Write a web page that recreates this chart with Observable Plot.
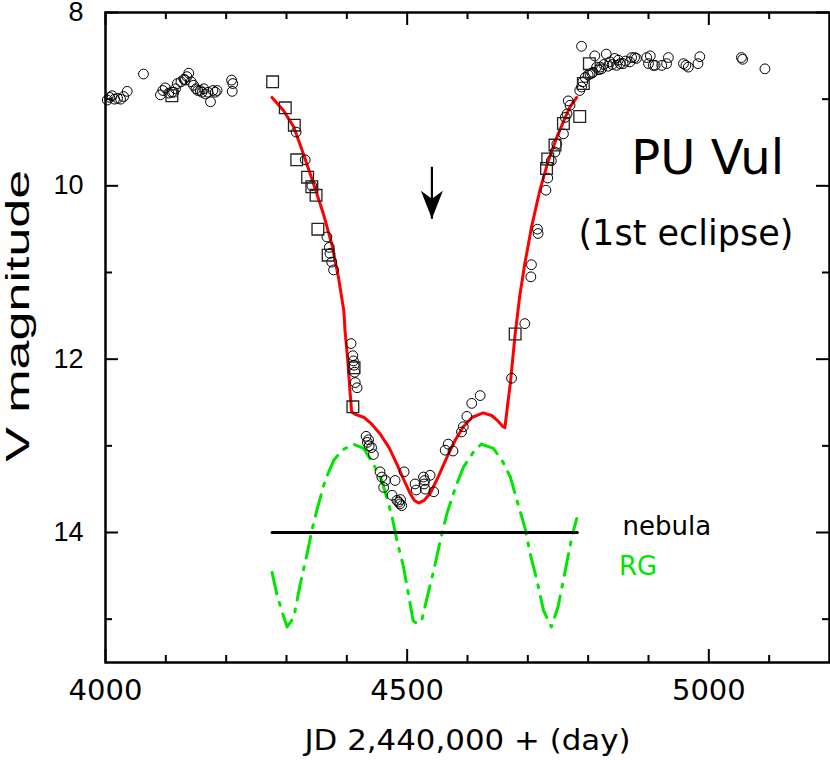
<!DOCTYPE html>
<html><head><meta charset="utf-8">
<script src="https://cdn.jsdelivr.net/npm/d3@7"></script>
<script src="https://cdn.jsdelivr.net/npm/@observablehq/plot@0.6"></script>
<style>body{margin:0;background:#fff;}</style>
</head><body><div id="chart"></div>
<script>
// ---- data (JD-2,440,000 , V magnitude) ----
const circleObs = [
  [4003,9.01],[4007,8.98],[4011,8.96],[4015,9.0],[4020,8.99],[4025,9.0],[4030,8.97],[4036,8.91],
  [4063,8.71],[4091,8.95],[4095,8.9],[4099,8.87],[4105,8.93],[4110,8.92],[4113,8.92],[4116,8.88],
  [4119,8.82],[4125,8.8],[4130,8.77],[4132,8.78],[4135,8.74],[4138,8.70],[4142,8.8],[4146,8.84],
  [4150,8.88],[4153,8.9],[4157,8.90],[4160,8.92],[4163,8.88],[4166,8.94],[4170,8.92],[4174,9.03],
  [4178,8.9],[4182,8.92],[4185,8.90],[4209,8.78],[4211,8.82],[4210,8.91],
  [4316,9.38],[4331,9.70],[4342,10.0],[4367,10.59],[4371,10.71],[4372,10.78],[4375,10.88],[4378,10.97],
  [4407,11.82],[4410,11.96],[4411,12.02],[4412,12.07],[4413,12.15],[4414,12.27],[4417,12.33],
  [4432,12.89],[4434,12.96],[4436,12.93],[4437,13.0],[4441,13.02],[4444,13.1],
  [4455,13.30],[4458,13.36],[4461,13.48],[4464,13.40],[4475,13.57],[4480,13.40],[4483,13.63],
  [4486,13.65],[4488,13.67],[4489,13.62],[4491,13.69],[4495,13.30],[4513,13.44],[4515,13.51],
  [4527,13.36],[4528,13.44],[4529,13.40],[4530,13.50],[4538,13.34],[4544,13.53],
  [4563,13.05],[4568,12.98],[4576,13.06],[4590,12.84],[4593,12.78],[4599,12.66],[4607,12.51],
  [4621,12.42],[4673,12.22],[4695,11.59],[4705,11.05],[4706,10.91],[4716,10.50],[4717,10.55],
  [4730,10.05],[4733,9.91],[4739,9.71],[4745,9.61],[4748,9.52],[4759,9.40],[4762,9.21],
  [4765,9.17],[4767,9.02],[4770,9.07],
  [4786,8.90],[4789,8.86],[4789,8.39],[4791,8.80],[4795,8.75],[4800,8.72],[4803,8.71],[4806,8.70],
  [4808,8.69],[4811,8.50],[4814,8.63],[4818,8.66],[4820,8.63],[4822,8.65],[4826,8.6],[4830,8.48],
  [4833,8.62],[4836,8.57],[4840,8.6],[4844,8.53],[4847,8.61],[4850,8.55],[4853,8.59],[4858,8.59],
  [4862,8.56],[4869,8.57],[4872,8.52],[4877,8.52],[4880,8.53],[4897,8.52],[4900,8.59],[4903,8.5],
  [4908,8.61],[4911,8.61],[4922,8.61],[4930,8.59],[4933,8.52],[4958,8.59],[4962,8.61],[4966,8.63],
  [4982,8.59],[4985,8.51],[5054,8.52],[5056,8.54],[5093,8.65]
];
const squareObs = [
  [4110,8.96],[4277,8.80],[4298,9.10],[4313,9.30],[4317,9.70],[4335,9.90],[4342,10.01],[4349,10.11],
  [4352,10.50],[4369,10.80],[4412,12.1],[4410,12.55],[4679,11.71],[4731,9.80],[4733,9.69],
  [4745,9.53],[4759,9.28],[4786,9.20],[4792,8.82],[4802,8.59]
];
const modelCurve = [
  [4276,8.98],[4295,9.13],[4312,9.32],[4328,9.63],[4345,9.98],[4361,10.32],[4375,10.67],[4386,11.05],
  [4395,11.44],[4397,11.67],[4402,12.05],[4405,12.35],[4408,12.61],[4415,12.64],[4428,12.67],
  [4440,12.74],[4455,12.86],[4470,13.02],[4483,13.21],[4495,13.40],[4505,13.55],[4512,13.63],
  [4519,13.66],[4528,13.63],[4538,13.55],[4550,13.38],[4566,13.13],[4580,12.93],[4593,12.78],
  [4608,12.67],[4626,12.62],[4640,12.65],[4650,12.71],[4659,12.78],[4662,12.79],[4667,12.5],
  [4671,12.28],[4679,11.71],[4687,11.25],[4695,10.90],[4706,10.48],[4720,10.05],[4734,9.71],
  [4748,9.44],[4762,9.21],[4770,9.09],[4781,8.98]
];
const rgCurve = [
  [4276,14.46],[4284,14.71],[4292,14.90],[4301,15.09],[4312,14.98],[4323,14.59],[4334,14.25],
  [4342,13.98],[4350,13.75],[4364,13.40],[4378,13.17],[4392,13.05],[4411,12.98],[4428,13.03],
  [4444,13.21],[4458,13.40],[4466,13.59],[4475,13.82],[4483,14.09],[4494,14.40],[4502,14.71],
  [4510,15.02],[4516,15.05],[4524,15.02],[4532,14.78],[4544,14.44],[4555,14.09],[4566,13.78],
  [4580,13.48],[4593,13.25],[4610,13.07],[4623,12.98],[4643,13.03],[4659,13.19],[4671,13.36],
  [4682,13.63],[4695,13.94],[4704,14.25],[4715,14.55],[4726,14.90],[4739,15.09],[4750,14.86],
  [4762,14.44],[4773,14.05],[4781,13.84]
];
const nebulaLevel = [[4276,14.0],[4782,14.0]];
const arrowMark = [{jd: 4541, top: 9.78, tip: 10.38}];
const titleLines = ["PU Vul", "(1st eclipse)"];
const titleAt = [[4998, 9.69], [4962, 10.55]];
const nebulaLabel = [{text: "nebula", jd: 4857, mag: 13.93}];
const rgLabel = [{text: "RG", jd: 4851, mag: 14.39}];
const xMajorTicks = [4000, 4500, 5000];
const xMinorTicks = [4100, 4200, 4300, 4400, 4600, 4700, 4800, 4900, 5100];
const yMajorTicks = [8, 10, 12, 14];
const yMinorTicks = [9, 11, 13, 15];
const xTitle = "JD 2,440,000 + (day)";
const yTitle = "V magnitude";
const yTitleAt = 11.5;

// ---- layout & styles ----
const W = 830, H = 766, ML = 105, MR = 1, MT = 12, MB = 104;
const PW = W - ML - MR, PH = H - MT - MB;
const GREEN = "#00e600";
const hershey = "DejaVu Sans";
const helv = "Liberation Sans";
const arrowHead = {
  draw(ctx) {
    ctx.moveTo(0, 0); ctx.lineTo(-11, -28); ctx.lineTo(0, -20); ctx.lineTo(11, -28); ctx.closePath();
  }
};
// inward tick marks on all four sides of the frame
const ticks = (vals, side, len) => {
  const o = {stroke: "black", strokeWidth: 2};
  if (side === "bottom") return Plot.tickX(vals, {x: d => d, insetTop: PH - len, ...o});
  if (side === "top") return Plot.tickX(vals, {x: d => d, insetBottom: PH - len, ...o});
  if (side === "left") return Plot.tickY(vals, {y: d => d, insetRight: PW - len, ...o});
  return Plot.tickY(vals, {y: d => d, insetLeft: PW - len, ...o});
};

const chart = Plot.plot({
  width: W, height: H,
  marginLeft: ML, marginRight: MR, marginTop: MT, marginBottom: MB,
  x: {domain: [4000, 5200]},
  y: {domain: [8, 15.5], reverse: true},
  style: {background: "white", overflow: "visible"},
  marks: [
    Plot.line(rgCurve, {x: d => d[0], y: d => d[1], stroke: GREEN, strokeWidth: 3, strokeDasharray: "22,9,3,9"}),
    Plot.line(nebulaLevel, {x: d => d[0], y: d => d[1], stroke: "black", strokeWidth: 3}),
    Plot.line(modelCurve, {x: d => d[0], y: d => d[1], stroke: "#ff0000", strokeWidth: 3}),
    Plot.dot(circleObs, {x: d => d[0], y: d => d[1], r: 4.9, stroke: "black", strokeWidth: 1, fill: "none"}),
    Plot.dot(squareObs, {x: d => d[0], y: d => d[1], symbol: "square", r: 6.6, stroke: "#222", strokeWidth: 1.3, fill: "none"}),
    Plot.link(arrowMark, {x1: "jd", x2: "jd", y1: "top", y2: "tip", stroke: "black", strokeWidth: 2.2}),
    Plot.dot(arrowMark, {x: "jd", y: "tip", symbol: arrowHead, fill: "black", stroke: "none"}),
    Plot.text(titleLines.slice(0, 1), {x: () => titleAt[0][0], y: () => titleAt[0][1], text: d => d, fontSize: 48, fontFamily: hershey, fill: "black"}),
    Plot.text(titleLines.slice(1, 2), {x: () => titleAt[1][0], y: () => titleAt[1][1], text: d => d, fontSize: 35, fontFamily: hershey, fill: "black"}),
    Plot.text(nebulaLabel, {x: "jd", y: "mag", text: "text", textAnchor: "start", fontSize: 26, fontFamily: hershey, fill: "black"}),
    Plot.text(rgLabel, {x: "jd", y: "mag", text: "text", textAnchor: "start", fontSize: 26, fontFamily: hershey, fill: GREEN}),
    Plot.frame({stroke: "black", strokeWidth: 2.5}),
    ticks(xMajorTicks, "bottom", 13), ticks(xMinorTicks, "bottom", 7),
    ticks(xMajorTicks, "top", 13), ticks(xMinorTicks, "top", 7),
    ticks(yMajorTicks, "left", 13), ticks(yMinorTicks, "left", 7),
    ticks(yMajorTicks, "right", 13), ticks(yMinorTicks, "right", 7),
    Plot.axisX(xMajorTicks, {anchor: "bottom", tickSize: 0, tickPadding: 17, label: null, fontSize: 29, fontFamily: hershey, tickFormat: d => String(d)}),
    Plot.axisY(yMajorTicks, {anchor: "left", tickSize: 0, tickPadding: 22, label: null, fontSize: 27, fontFamily: helv, tickFormat: d => String(d)}),
    Plot.text([xTitle], {frameAnchor: "bottom", dy: 87, text: d => d, fontSize: 29, fontFamily: hershey, fill: "black"}),
    Plot.text([yTitle], {y: () => yTitleAt, frameAnchor: "left", dx: -87, rotate: -90, textAnchor: "middle", text: d => d, fontSize: 33, fontFamily: helv, fill: "black"})
  ]
});
document.getElementById("chart").appendChild(chart);
// stretch the long axis titles to the reference's lettering width
d3.select(chart).selectAll("text").each(function () {
  const t = this.textContent;
  if (t === yTitle) { this.setAttribute("textLength", 292); this.setAttribute("lengthAdjust", "spacingAndGlyphs"); }
  if (t === xTitle) { this.setAttribute("textLength", 326); this.setAttribute("lengthAdjust", "spacingAndGlyphs"); }
});
</script>
</body></html>
